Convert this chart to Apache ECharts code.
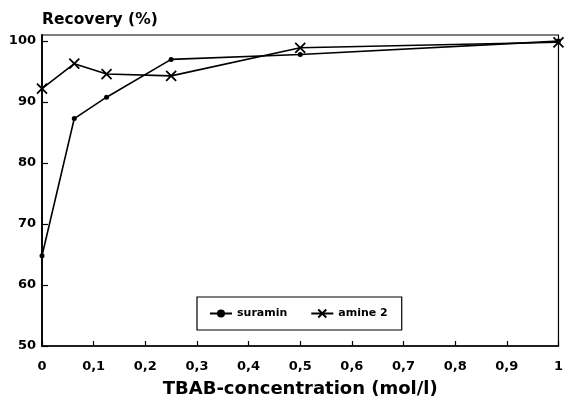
<!DOCTYPE html>
<html>
<head>
<meta charset="utf-8">
<script src="https://cdn.jsdelivr.net/npm/echarts@6/dist/echarts.min.js"></script>
<style>
  html, body { margin: 0; padding: 0; background: #fff; }
  #chart { width: 566px; height: 403px; }
</style>
</head>
<body>
<div id="chart"></div>
<script>
// TBAB concentration (mol/l) at which recovery was measured
const concentrations = [0, 0.0625, 0.125, 0.25, 0.5, 1];
// Recovery (%) per compound
const suraminRecovery = [64.8, 87.3, 90.8, 97.0, 97.8, 100.0];
const amineRecovery = [92.2, 96.3, 94.6, 94.3, 98.9, 99.8];
const seriesNames = ['suramin', 'amine 2'];
const yTicks = [50, 60, 70, 80, 90, 100];

const FONT = '"DejaVu Sans", "Liberation Sans", Arial, sans-serif';
const toPairs = (xs, ys) => xs.map((x, i) => [x, ys[i]]);

const chart = echarts.init(document.getElementById('chart'), null, { renderer: 'canvas' });

chart.setOption({
  animation: false,
  backgroundColor: '#fff',
  title: {
    text: 'Recovery (%)',
    left: 37,
    top: 7,
    textStyle: { fontFamily: FONT, fontWeight: 'bold', fontSize: 15.5, color: '#000' }
  },
  grid: {
    left: 42, right: 7, top: 35, bottom: 54,
    show: true, borderColor: '#000', borderWidth: 1.2
  },
  legend: {
    left: 197, top: 297,
    width: 205,
    padding: [11, 14, 11, 12],
    borderColor: '#000', borderWidth: 1.2,
    itemWidth: 22, itemHeight: 10, itemGap: 23,
    data: seriesNames,
    textStyle: { fontFamily: FONT, fontWeight: 'bold', fontSize: 11, color: '#000' }
  },
  xAxis: {
    type: 'value',
    min: 0, max: 1, interval: 0.1,
    name: 'TBAB-concentration (mol/l)',
    nameLocation: 'middle',
    nameGap: 34,
    nameTextStyle: { fontFamily: FONT, fontWeight: 'bold', fontSize: 18, color: '#000' },
    axisLine: { lineStyle: { color: '#000', width: 1.6 } },
    axisTick: { inside: true, length: 5, lineStyle: { color: '#000', width: 1.2 } },
    axisLabel: {
      margin: 14,
      fontFamily: FONT, fontWeight: 'bold', fontSize: 13, color: '#000',
      formatter: v => String(Math.round(v * 10) / 10).replace('.', ',')
    },
    splitLine: { show: false }
  },
  yAxis: {
    type: 'value',
    min: yTicks[0], max: 101, interval: 10,
    axisLine: { show: true, lineStyle: { color: '#000', width: 1.8 } },
    axisTick: { inside: true, length: 6, lineStyle: { color: '#000', width: 1.2 } },
    axisLabel: {
      margin: 6, showMaxLabel: false,
      fontFamily: FONT, fontWeight: 'bold', fontSize: 13, color: '#000',
      formatter: v => (yTicks.indexOf(v) >= 0 ? String(v) : '')
    },
    splitLine: { show: false }
  },
  series: [
    {
      name: seriesNames[0],
      type: 'line',
      data: toPairs(concentrations, suraminRecovery),
      symbol: 'circle',
      symbolSize: 5,
      lineStyle: { color: '#000', width: 1.6 },
      itemStyle: { color: '#000' }
    },
    {
      name: seriesNames[1],
      type: 'line',
      data: toPairs(concentrations, amineRecovery),
      symbol: 'path://M0,0L10,10M10,0L0,10',
      symbolSize: 10,
      lineStyle: { color: '#000', width: 1.6 },
      itemStyle: { color: '#000', borderColor: '#000', borderWidth: 1.8 }
    }
  ]
});
</script>
</body>
</html>
